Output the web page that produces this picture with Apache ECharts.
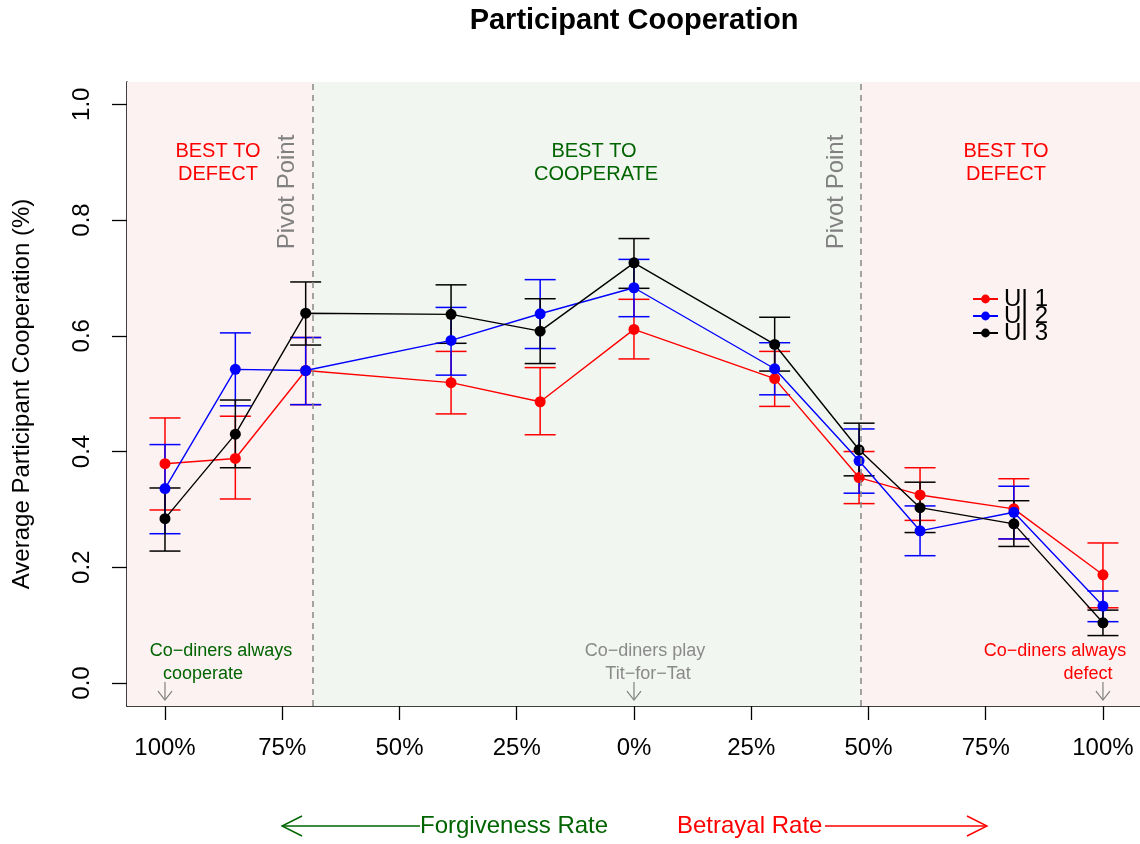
<!DOCTYPE html>
<html>
<head>
<meta charset="utf-8">
<script src="https://cdn.jsdelivr.net/npm/echarts@6/dist/echarts.min.js"></script>
<style>
  html, body { margin: 0; padding: 0; background: #fff; }
  #chart { width: 1140px; height: 844px; }
</style>
</head>
<body>
<div id="chart"></div>
<script>
// x: negative = forgiveness rate, positive = betrayal rate (%)
const xPos = [-100, -85, -70, -39, -20, 0, 30, 48, 61, 81, 100]
const xTicks = [-100, -75, -50, -25, 0, 25, 50, 75, 100]
const xTickLabels = ['100%', '75%', '50%', '25%', '0%', '25%', '50%', '75%', '100%']
const yTicks = [0, 0.2, 0.4, 0.6, 0.8, 1.0]
const yTickLabels = ['0.0', '0.2', '0.4', '0.6', '0.8', '1.0']
const pivotPoints = [-68.4, 48.4]
const scenarioX = [-100, 0, 100]

const ui1 = [0.379, 0.388, 0.540, 0.519, 0.486, 0.611, 0.526, 0.355, 0.325, 0.301, 0.187]
const ui1Lo = [0.299, 0.318, 0.481, 0.465, 0.429, 0.560, 0.478, 0.310, 0.281, 0.249, 0.130]
const ui1Hi = [0.458, 0.461, 0.597, 0.573, 0.545, 0.663, 0.573, 0.400, 0.372, 0.353, 0.242]

const ui2 = [0.336, 0.542, 0.540, 0.592, 0.638, 0.683, 0.543, 0.384, 0.263, 0.295, 0.133]
const ui2Lo = [0.258, 0.479, 0.481, 0.532, 0.578, 0.633, 0.498, 0.328, 0.220, 0.249, 0.106]
const ui2Hi = [0.412, 0.605, 0.597, 0.649, 0.697, 0.732, 0.588, 0.439, 0.306, 0.340, 0.159]

const ui3 = [0.284, 0.430, 0.639, 0.637, 0.608, 0.726, 0.585, 0.403, 0.303, 0.275, 0.104]
const ui3Lo = [0.228, 0.372, 0.584, 0.587, 0.552, 0.682, 0.539, 0.358, 0.260, 0.236, 0.082]
const ui3Hi = [0.337, 0.489, 0.693, 0.688, 0.664, 0.768, 0.632, 0.449, 0.347, 0.315, 0.126]

const FONT = 'Liberation Sans, Arial, Helvetica, sans-serif'
const PINK = '#fdf2f2'
const GREEN = '#f2f6f0'
const DARKGREEN = '#006400'
const GRAY = '#808080'

const X_MIN = -108.1
const X_MAX = 107.9

function errRender (color) {
  return function (params, api) {
    const x = api.value(0)
    const lo = api.coord([x, api.value(1)])
    const hi = api.coord([x, api.value(2)])
    const w = 15.5
    const st = { stroke: color, lineWidth: 1.5 }
    return {
      type: 'group',
      children: [
        { type: 'line', shape: { x1: lo[0], y1: lo[1], x2: hi[0], y2: hi[1] }, style: st },
        { type: 'line', shape: { x1: lo[0] - w, y1: lo[1], x2: lo[0] + w, y2: lo[1] }, style: st },
        { type: 'line', shape: { x1: hi[0] - w, y1: hi[1], x2: hi[0] + w, y2: hi[1] }, style: st }
      ]
    }
  }
}

function errSeries (name, color, lo, hi) {
  return {
    name: name,
    type: 'custom',
    renderItem: errRender(color),
    encode: { x: 0, y: [1, 2] },
    data: xPos.map((x, i) => [x, lo[i], hi[i]]),
    silent: true
  }
}

function lineSeries (name, color, vals) {
  return {
    name: name,
    type: 'line',
    data: xPos.map((x, i) => [x, vals[i]]),
    symbol: 'circle',
    symbolSize: 11,
    color: color,
    lineStyle: { width: 1.4, color: color },
    itemStyle: { color: color }
  }
}

const chart = echarts.init(document.getElementById('chart'))

const option = {
  animation: false,
  backgroundColor: '#fff',
  textStyle: { fontFamily: FONT },
  grid: { left: 127, right: 0, top: 82, bottom: 138, containLabel: false, outerBoundsMode: 'none' },
  legend: {
    orient: 'vertical',
    left: 967,
    top: 282,
    itemGap: -7,
    itemWidth: 25,
    itemHeight: 11,
    data: ['UI 1', 'UI 2', 'UI 3'],
    textStyle: { fontSize: 24, lineHeight: 18, color: '#000', fontFamily: FONT, padding: [0, 0, 0, 1] }
  },
  xAxis: {
    type: 'value',
    min: X_MIN,
    max: X_MAX,
    splitLine: { show: false },
    axisLine: { show: true, onZero: false, lineStyle: { color: '#000', width: 1.5 } },
    axisTick: { show: true, length: 14, customValues: xTicks, lineStyle: { color: '#000', width: 1.3 } },
    axisLabel: {
      customValues: xTicks,
      margin: 30,
      fontSize: 24,
      color: '#000',
      fontFamily: FONT,
      formatter: v => xTickLabels[xTicks.indexOf(v)]
    }
  },
  yAxis: {
    type: 'value',
    min: -0.0397,
    max: 1.0385,
    name: 'Average Participant Cooperation (%)',
    nameLocation: 'middle',
    nameRotate: 90,
    nameGap: 93,
    nameTextStyle: { fontSize: 24, color: '#000', fontFamily: FONT },
    splitLine: { show: false },
    axisLine: { show: true, onZero: false, lineStyle: { color: '#000', width: 1.5 } },
    axisTick: { show: true, length: 15, customValues: yTicks, lineStyle: { color: '#000', width: 1.3 } },
    axisLabel: {
      customValues: yTicks,
      rotate: 90,
      margin: 33,
      fontSize: 24,
      color: '#000',
      fontFamily: FONT,
      formatter: v => yTickLabels[yTicks.indexOf(v)]
    }
  },
  series: [
    {
      name: 'regions',
      type: 'line',
      data: [],
      silent: true,
      z: 0,
      markArea: {
        silent: true,
        data: [
          [{ xAxis: X_MIN, itemStyle: { color: PINK } }, { xAxis: pivotPoints[0] }],
          [{ xAxis: pivotPoints[0], itemStyle: { color: GREEN } }, { xAxis: pivotPoints[1] }],
          [{ xAxis: pivotPoints[1], itemStyle: { color: PINK } }, { xAxis: X_MAX }]
        ]
      },
      markLine: {
        silent: true,
        symbol: ['none', 'none'],
        label: { show: false },
        lineStyle: { color: '#888', type: [6, 5], width: 1.5 },
        data: pivotPoints.map(p => ({ xAxis: p }))
      }
    },
    errSeries('err1', '#ff0000', ui1Lo, ui1Hi),
    lineSeries('UI 1', '#ff0000', ui1),
    errSeries('err2', '#0000ff', ui2Lo, ui2Hi),
    lineSeries('UI 2', '#0000ff', ui2),
    errSeries('err3', '#000000', ui3Lo, ui3Hi),
    lineSeries('UI 3', '#000000', ui3)
  ]
}

chart.setOption(option)

// annotations
function txt (text, x, y, size, color, extra) {
  return Object.assign({
    type: 'text',
    x: x,
    y: y,
    silent: true,
    z: 50,
    style: Object.assign({
      text: text,
      fontSize: size,
      fontFamily: FONT,
      fill: color,
      align: 'center',
      verticalAlign: 'middle'
    }, (extra && extra.style) || {})
  }, extra && extra.rotation !== undefined ? { rotation: extra.rotation } : {})
}

function polyline (points, color, w) {
  return { type: 'polyline', silent: true, z: 50, shape: { points: points }, style: { stroke: color, lineWidth: w, fill: null } }
}

const graphics = [
  txt('Participant Cooperation', 634, 21, 29, '#000', { style: { fontWeight: 'bold' } }),
  txt('BEST TO', 218, 151, 20, '#ff0000'),
  txt('DEFECT', 218, 174, 20, '#ff0000'),
  txt('BEST TO', 594, 151, 20, DARKGREEN),
  txt('COOPERATE', 596, 174, 20, DARKGREEN),
  txt('BEST TO', 1006, 151, 20, '#ff0000'),
  txt('DEFECT', 1006, 174, 20, '#ff0000'),
  txt('Pivot Point', 287, 192, 24, GRAY, { rotation: Math.PI / 2 }),
  txt('Pivot Point', 836, 192, 24, GRAY, { rotation: Math.PI / 2 }),
  txt('Co\u2212diners always', 221, 651, 18, DARKGREEN),
  txt('cooperate', 203, 674, 18, DARKGREEN),
  txt('Co\u2212diners play', 645, 651, 18, '#8a8a8a'),
  txt('Tit\u2212for\u2212Tat', 648, 674, 18, '#8a8a8a'),
  txt('Co\u2212diners always', 1055, 651, 18, '#ff0000'),
  txt('defect', 1088, 674, 18, '#ff0000'),
  // bottom direction arrows
  polyline([[282, 826], [420, 826]], DARKGREEN, 1.4),
  polyline([[302, 816], [282, 826], [302, 836]], DARKGREEN, 1.4),
  txt('Forgiveness Rate', 420, 826, 24, DARKGREEN, { style: { align: 'left' } }),
  txt('Betrayal Rate', 677, 826, 24, '#ff0000', { style: { align: 'left' } }),
  polyline([[825, 826], [987, 826]], '#ff0000', 1.4),
  polyline([[967, 816], [987, 826], [967, 836]], '#ff0000', 1.4)
]

// small down arrows marking the scenario points
scenarioX.forEach(x => {
  const p = chart.convertToPixel({ gridIndex: 0 }, [x, 0])
  const top = p[1] - 1
  const tip = p[1] + 17
  graphics.push(polyline([[p[0], top], [p[0], tip]], GRAY, 1.2))
  graphics.push(polyline([[p[0] - 7, tip - 9], [p[0], tip], [p[0] + 7, tip - 9]], GRAY, 1.2))
})

chart.setOption({ graphic: graphics })
window.onresize = () => { chart.resize() }
</script>
</body>
</html>
